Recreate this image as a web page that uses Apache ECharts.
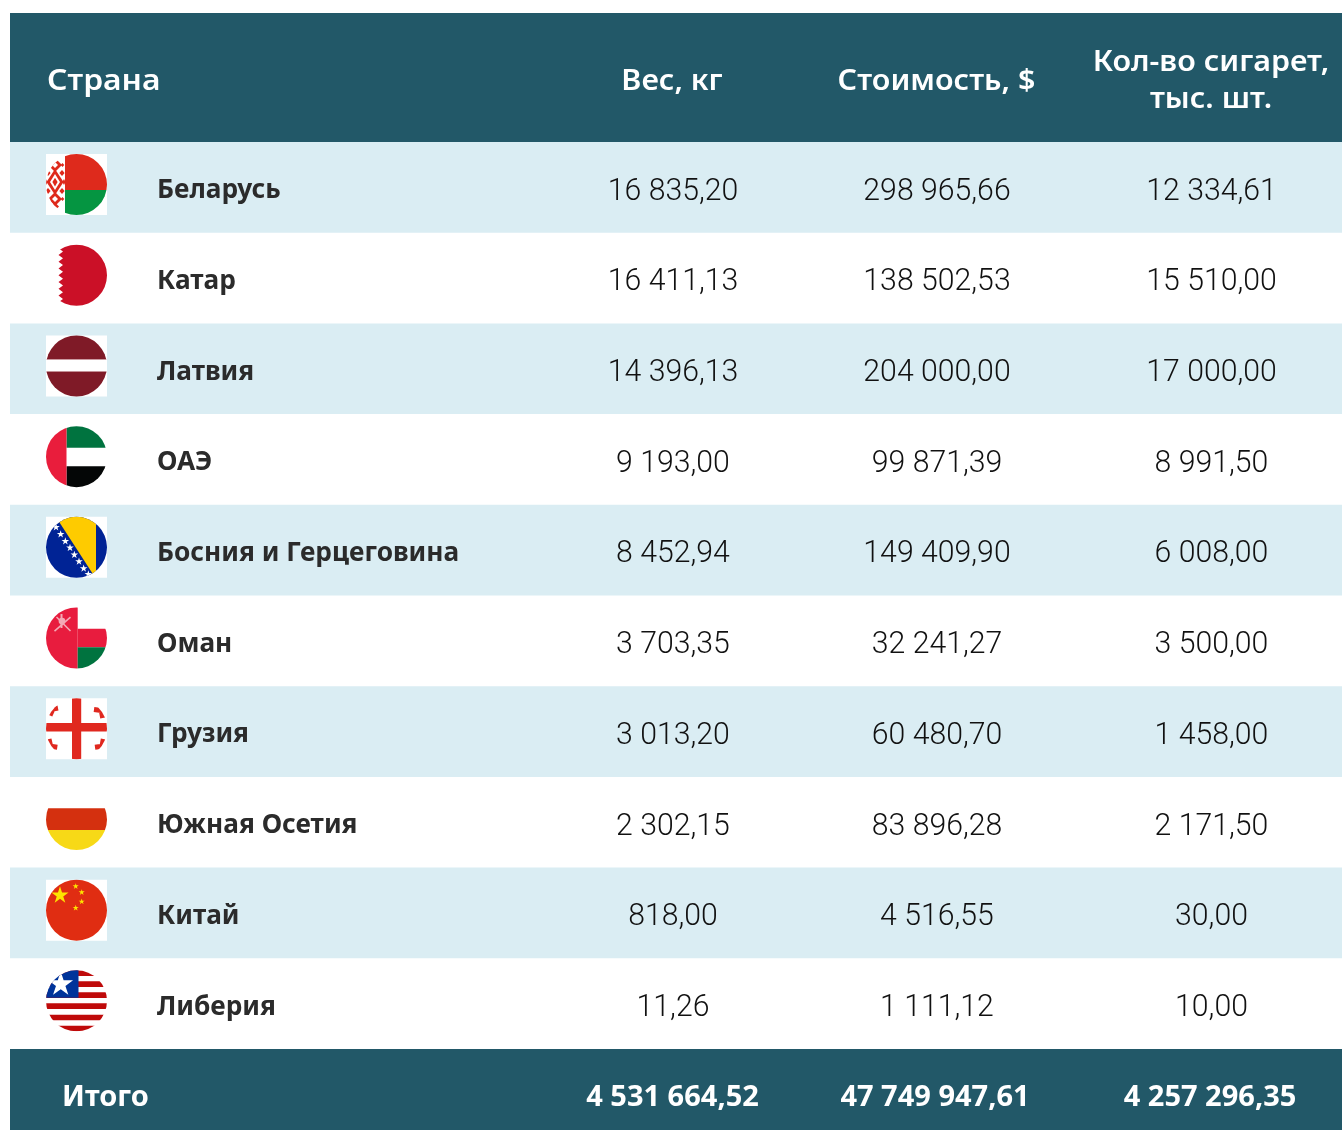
<!DOCTYPE html>
<html><head><meta charset="utf-8">
<style>html,body{margin:0;padding:0;background:#fff}#c{width:1342px;height:1130px}</style>
<script src="https://cdn.jsdelivr.net/npm/echarts@6/dist/echarts.min.js"></script>
</head><body><div id="c"></div>
<script>
var countries = ['Беларусь','Катар','Латвия','ОАЭ','Босния и Герцеговина','Оман','Грузия','Южная Осетия','Китай','Либерия'];
var weights = [16835.20,16411.13,14396.13,9193.00,8452.94,3703.35,3013.20,2302.15,818.00,11.26];
var costs = [298965.66,138502.53,204000.00,99871.39,149409.90,32241.27,60480.70,83896.28,4516.55,1111.12];
var cigarettes = [12334.61,15510.00,17000.00,8991.50,6008.00,3500.00,1458.00,2171.50,30.00,10.00];
var headers = ['Страна','Вес, кг','Стоимость, $','Кол-во сигарет,\nтыс. шт.'];
var totalLabel = 'Итого';
var totals = [4531664.52,47749947.61,4257296.35];

var NAVY='#225868', BAND='#daedf3', INK='#111', NAME='#2b2b2b';
var COLS=[673,937,1211.5];
var NUMFONT='Roboto', HEADFONT='"Noto Sans"';

function fmt(v){
  var s=v.toFixed(2).split('.');
  return s[0].replace(/\B(?=(\d{3})+(?!\d))/g,' ')+','+s[1];
}
function star(cx,cy,r,rot){
  var p=[];rot=rot||0;
  for(var i=0;i<10;i++){
    var a=-Math.PI/2+rot+i*Math.PI/5, q=i%2?r*0.382:r;
    p.push([cx+q*Math.cos(a),cy+q*Math.sin(a)]);
  }
  return {type:'polygon',shape:{points:p},style:{fill:'#fff'}};
}
function colored(e,c){e.style.fill=c;return e;}
function R(x,y,w,h,c){return {type:'rect',shape:{x:x,y:y,width:w,height:h},style:{fill:c}};}
function P(pts,c){return {type:'polygon',shape:{points:pts},style:{fill:c}};}
function L(x1,y1,x2,y2,c,w){return {type:'line',shape:{x1:x1,y1:y1,x2:x2,y2:y2},style:{stroke:c,lineWidth:w}};}
function PL(pts,c,w){return {type:'polyline',shape:{points:pts},style:{stroke:c,lineWidth:w,fill:null,lineJoin:'round'}};}

var FR=30.5;
var flags={
 'Беларусь':function(){
   var red='#de2a1c',o=[R(-31,-31,62,62,'#fff'),R(-11.5,-31,43,36.5,red),R(-11.5,5.5,43,26,'#059541')];
   function dia(cx,cy,w,h,c){o.push(P([[cx,cy-h],[cx+w,cy],[cx,cy+h],[cx-w,cy]],c));}
   var cx=-21.5, cy=-2.5;
   dia(cx,cy,8.5,13,red); dia(cx,cy,5,8,'#fff'); dia(cx,cy,2.6,4.4,red);
   [-1,1].forEach(function(s){
     dia(cx,cy+s*17,7,7,red); dia(cx,cy+s*17,3,3,'#fff');
     dia(cx,cy+s*24.5,4,4,red);
     dia(cx-7,cy+s*9,2.6,3,red); dia(cx+7,cy+s*9,2.6,3,red);
     dia(cx-7.5,cy+s*17,1.8,2,red); dia(cx+7.5,cy+s*17,1.8,2,red);
     dia(cx,cy+s*27.5,1.6,1.6,'#fff');
   });
   dia(cx-9,cy,1.6,3,red); dia(cx+9,cy,1.6,3,red);
   return o;
 },
 'Катар':function(){
   var c='#cb1027',pts=[[31,-31],[31,31],[-14,31]],n=9,h=61/n;
   for(var i=n;i>0;i--){
     var yb=-30.5+i*h;
     pts.push([-18,yb-h/2]);
     pts.push([-13.5,yb-h]);
   }
   pts.push([-13.5,-31]);
   return [P(pts,c)];
 },
 'Латвия':function(){
   return [R(-31,-31,62,24.2,'#7f1a27'),R(-31,-6.8,62,.6,'#b5737b'),R(-31,5.2,62,.6,'#b5737b'),R(-31,5.8,62,25.2,'#7f1a27')];
 },
 'ОАЭ':function(){
   return [R(-10,-31,41,22,'#00733f'),R(-10,9.5,41,22,'#040606'),R(-31,-31,21,62,'#e91d3c')];
 },
 'Босния и Герцеговина':function(){
   var o=[R(-31,-31,62,62,'#002395'),P([[-21,-31],[19.5,-31],[19.5,31.5]],'#fecb00')];
   [[78,592],[92,613],[106,634],[120,654],[133,675],[147,695],[161,716],[175,733]].forEach(function(s){
     o.push(star(30+s[0]/3-76.5,330+s[1]/3-547.5,4));
   });
   return o;
 },
 'Оман':function(){
   var red='#e81c3e';
   return [R(-31,-31,32.2,62,red),R(1.2,-9.2,30,18.4,red),R(1.2,9.2,30,22,'#00733f'),
     L(-22,-7,-6,-21,'#f3a9b5',1.6),L(-20,-21,-6,-7,'#f3a9b5',1.6),L(-15,-24,-15,-10,'#f3a9b5',2),
     {type:'circle',shape:{cx:-14.5,cy:-17,r:3.4},style:{fill:'#f3a9b5'}}];
 },
 'Грузия':function(){
   var c='#e0281f',o=[R(-31,-31,62,62,'#fff'),R(-4.5,-31,9.2,62,c),R(-31,-5.8,62,8.6,c)];
   [[[-26.5,-13.2],[-23.5,-19.8],[-18.5,-20.8]],
    [[17.5,-19.2],[24.8,-18.2],[26.2,-10.8]],
    [[-27.5,10.2],[-25.8,17.5],[-19.2,18.5]],
    [[18.5,18.5],[25.5,17.5],[26.8,10.2]]].forEach(function(b){o.push(PL(b,c,5));});
   return o;
 },
 'Южная Осетия':function(){
   return [R(-31,-11.2,62,21.7,'#d4300f'),R(-31,10.5,62,21,'#f7d917')];
 },
 'Китай':function(){
   var y='#fde400',o=[R(-31,-31,62,62,'#e02d12'),colored(star(-16.5,-14.8,9),y)];
   [[-0.8,-23.8],[5.2,-17.8],[5.2,-8.5],[-0.8,-2.2]].forEach(function(s){o.push(colored(star(s[0],s[1],3.2),y));});
   return o;
 },
 'Либерия':function(){
   var o=[],c='#bf0a0a';
   [-30.5,-19.5,-8.5,2.5,13.8,24.8].forEach(function(y){o.push(R(-31,y,62,5.6,c));});
   o.push(R(-31,-31,33,28,'#00339a'));
   o.push(star(-15.8,-16.5,13));
   return o;
 }
};
var squareBg={'Беларусь':1,'Латвия':1,'Босния и Герцеговина':1,'Грузия':1,'Китай':1};

function text(x,y,str,font,weight,size,fill,align,sx){
  return {type:'text',x:x,y:y,scaleX:sx||1,
    style:{text:str,fontFamily:font,fontWeight:weight,fontSize:size,fill:fill,align:align,verticalAlign:'middle',textAlign:align,textVerticalAlign:'middle',lineHeight:37}};
}

function renderRow(params,api){
  var i=params.dataIndex, name=countries[i];
  var c=api.coord([0,name]), bh=api.size([0,1])[1];
  var top=c[1]-bh/2, cy=c[1];
  var W=params.coordSys.width, L0=params.coordSys.x;
  var kids=[];
  if(i%2===0) kids.push({type:'rect',shape:{x:L0,y:top,width:W,height:bh},style:{fill:BAND}});
  var flagKids=[];
  if(squareBg[name]) flagKids.push({type:'rect',shape:{x:-30.5,y:-30.5,width:61,height:61},style:{fill:'#fff'}});
  flagKids.push({type:'group',clipPath:{type:'circle',shape:{cx:0,cy:0,r:FR}},children:flags[name]()});
  kids.push({type:'group',x:76.5,y:cy-2.8,children:flagKids});
  kids.push(text(157,cy+3.5,name,HEADFONT,700,26,NAME,'left',1.01));
  kids.push(text(COLS[0],cy+4.5,fmt(weights[i]),NUMFONT,300,31,INK,'center',.975));
  kids.push(text(COLS[1],cy+4.5,fmt(costs[i]),NUMFONT,300,31,INK,'center',.975));
  kids.push(text(COLS[2],cy+4.5,fmt(cigarettes[i]),NUMFONT,300,31,INK,'center',.975));
  return {type:'group',children:kids};
}

var chart=echarts.init(document.getElementById('c'),null,{renderer:'canvas',width:1342,height:1130});
function gtext(x,y,str,weight,size,align,sx){
  return {type:'text',x:x,y:y,scaleX:sx||1,z:10,
    style:{text:str,fontFamily:HEADFONT,fontWeight:weight,fontSize:size,fill:'#fff',textAlign:align,textVerticalAlign:'middle',align:align,verticalAlign:'middle',lineHeight:37}};
}
chart.setOption({
  animation:false,
  backgroundColor:'#fff',
  grid:{left:10,right:0,top:142,bottom:81},
  xAxis:{type:'value',min:0,max:1342,show:false},
  yAxis:{type:'category',data:countries,inverse:true,show:false},
  graphic:{elements:[
    {type:'rect',shape:{x:10,y:13,width:1332,height:129},style:{fill:NAVY}},
    {type:'rect',shape:{x:10,y:1049,width:1332,height:81},style:{fill:NAVY}},
    gtext(47,82,headers[0],600,29,'left',1.1),
    gtext(672,82,headers[1],600,29,'center',1.05),
    gtext(936.5,82,headers[2],600,29,'center',1.05),
    gtext(1211,81.5,headers[3],600,29,'center',1.05),
    gtext(62,1098,totalLabel,700,29,'left'),
    gtext(672.5,1098,fmt(totals[0]),700,29,'center',1),
    gtext(935,1098,fmt(totals[1]),700,29,'center',1),
    gtext(1210,1098,fmt(totals[2]),700,29,'center',1)
  ]},
  series:[{type:'custom',clip:false,coordinateSystem:'cartesian2d',
    data:countries.map(function(c,i){return [weights[i],c,costs[i],cigarettes[i]];}),
    encode:{x:0,y:1},
    renderItem:renderRow}]
});
</script></body></html>
